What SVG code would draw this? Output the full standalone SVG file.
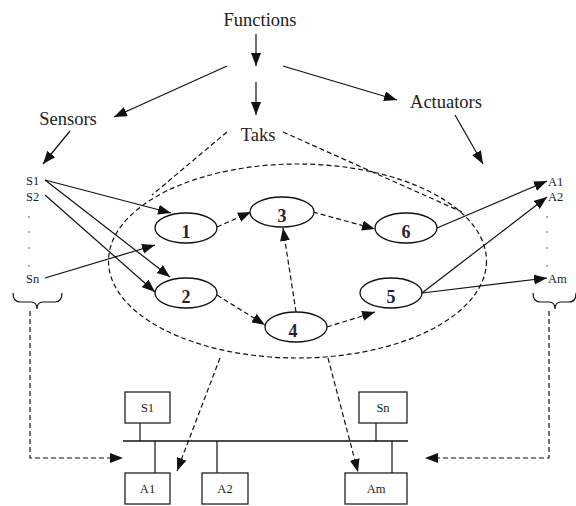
<svg xmlns="http://www.w3.org/2000/svg" width="576" height="506" viewBox="0 0 576 506" font-family="'Liberation Serif', 'DejaVu Serif', 'Times New Roman', serif">
<style>
text{font-family:'Liberation Serif','DejaVu Serif','Times New Roman',serif;fill:#222}
.t{font-size:18.5px;text-anchor:middle}
.s{font-size:12.5px}
.b{font-size:12.5px;text-anchor:middle}
.n{font-size:18px;font-weight:bold;text-anchor:middle;fill:#2b1f33}
.e{fill:#fff;stroke:#111;stroke-width:1.3}
.sol{stroke:#111;stroke-width:1.2;fill:none}
.arr{stroke:#111;stroke-width:1.2;fill:none;marker-end:url(#ah)}
.dsh{stroke:#111;stroke-width:1.2;fill:none;stroke-dasharray:5,3}
.da{stroke:#111;stroke-width:1.2;fill:none;stroke-dasharray:5,3;marker-end:url(#ah)}
.box{fill:#fff;stroke:#222;stroke-width:1.3}
.dot{fill:#888}
</style>
<defs>
<marker id="ah" markerUnits="userSpaceOnUse" markerWidth="14" markerHeight="11" refX="13" refY="5" orient="auto">
<path d="M0,0 L13,5 L0,10 z" fill="#111"/>
</marker>
</defs>

<g id="labels">
<text class="t" x="260" y="26">Functions</text>
<text class="t" x="68" y="125">Sensors</text>
<text class="t" x="446" y="108">Actuators</text>
<text class="t" x="258" y="141">Taks</text>
</g>

<g id="task-region">
<ellipse cx="297.5" cy="261" rx="189" ry="97" class="dsh"/>
</g>

<g id="sensors-list">
<text class="s" x="26" y="185">S1</text>
<text class="s" x="26" y="201">S2</text>
<circle class="dot" cx="29" cy="217" r="0.9"/>
<circle class="dot" cx="29" cy="232" r="0.9"/>
<circle class="dot" cx="29" cy="248" r="0.9"/>
<circle class="dot" cx="29" cy="266" r="0.9"/>
<text class="s" x="26" y="283">Sn</text>
<path class="sol" d="M13,293 Q13,302 20,302 L31,302 Q37,302 37,309 Q37,302 43,302 L55,302 Q62,302 62,293"/>
</g>

<g id="actuators-list">
<text class="s" x="548" y="186">A1</text>
<text class="s" x="548" y="201">A2</text>
<circle class="dot" cx="547" cy="217" r="0.9"/>
<circle class="dot" cx="547" cy="232" r="0.9"/>
<circle class="dot" cx="547" cy="248" r="0.9"/>
<circle class="dot" cx="547" cy="266" r="0.9"/>
<text class="s" x="548" y="283">Am</text>
<path class="sol" d="M533,293 Q533,302 540,302 L549,302 Q555,302 555,309 Q555,302 561,302 L569,302 Q576,302 576,293"/>
</g>

<g id="connectors">
<line class="arr" x1="256" y1="34" x2="256" y2="66"/>
<line class="arr" x1="256" y1="82" x2="256" y2="115"/>
<line class="arr" x1="227" y1="66" x2="114" y2="117"/>
<line class="arr" x1="283" y1="66" x2="397" y2="100"/>
<line class="arr" x1="70" y1="131" x2="43" y2="164"/>
<line class="arr" x1="455" y1="115" x2="483" y2="164"/>
<line class="dsh" x1="227" y1="132" x2="152" y2="195"/>
<line class="dsh" x1="283" y1="132" x2="462" y2="212"/>

<line class="arr" x1="45" y1="180" x2="171" y2="213"/>
<line class="arr" x1="45" y1="180" x2="170" y2="277"/>
<line class="arr" x1="45" y1="195" x2="155" y2="292"/>
<line class="arr" x1="45" y1="278" x2="155" y2="245"/>

<line class="da" x1="217" y1="227" x2="251" y2="212"/>
<line class="da" x1="217" y1="295" x2="265" y2="325"/>
<line class="da" x1="296" y1="312" x2="283" y2="228"/>
<line class="da" x1="313" y1="212" x2="375" y2="229"/>
<line class="da" x1="327" y1="327" x2="375" y2="312"/>

<line class="arr" x1="437" y1="228" x2="547" y2="181"/>
<line class="arr" x1="422" y1="293" x2="547" y2="197"/>
<line class="arr" x1="422" y1="293" x2="547" y2="278"/>

<polyline class="da" points="30,311 30,458 123,458"/>
<polyline class="da" points="549,311 549,458 425,458"/>
<line class="da" x1="220" y1="358" x2="177" y2="471"/>
<line class="da" x1="328" y1="358" x2="358" y2="472"/>

<line class="sol" x1="123" y1="441" x2="408" y2="441" style="stroke-width:1.6"/>
<line class="sol" x1="140" y1="423" x2="140" y2="441"/>
<line class="sol" x1="376" y1="423" x2="376" y2="441"/>
<line class="sol" x1="155" y1="441" x2="155" y2="473"/>
<line class="sol" x1="217" y1="441" x2="217" y2="473"/>
<line class="sol" x1="392" y1="441" x2="392" y2="473"/>
</g>

<g id="node1"><ellipse class="e" cx="186" cy="228" rx="31" ry="15"/><text class="n" x="186" y="238">1</text></g>
<g id="node2"><ellipse class="e" cx="186" cy="293" rx="31" ry="15"/><text class="n" x="186" y="303">2</text></g>
<g id="node3"><ellipse class="e" cx="282" cy="212" rx="32" ry="15"/><text class="n" x="282" y="222">3</text></g>
<g id="node4"><ellipse class="e" cx="296" cy="327" rx="31" ry="15"/><text class="n" x="293" y="337">4</text></g>
<g id="node5"><ellipse class="e" cx="391" cy="293" rx="31" ry="15"/><text class="n" x="391" y="303">5</text></g>
<g id="node6"><ellipse class="e" cx="406" cy="228" rx="31" ry="15"/><text class="n" x="406" y="238">6</text></g>

<g id="box-S1"><rect class="box" x="125" y="392" width="45" height="31"/><text class="b" x="147.5" y="412">S1</text></g>
<g id="box-Sn"><rect class="box" x="359" y="392" width="48" height="31"/><text class="b" x="383" y="412">Sn</text></g>
<g id="box-A1"><rect class="box" x="125" y="473" width="45" height="31"/><text class="b" x="147.5" y="493">A1</text></g>
<g id="box-A2"><rect class="box" x="202" y="473" width="46" height="31"/><text class="b" x="225" y="493">A2</text></g>
<g id="box-Am"><rect class="box" x="345" y="473" width="62" height="31"/><text class="b" x="376" y="493">Am</text></g>
</svg>
